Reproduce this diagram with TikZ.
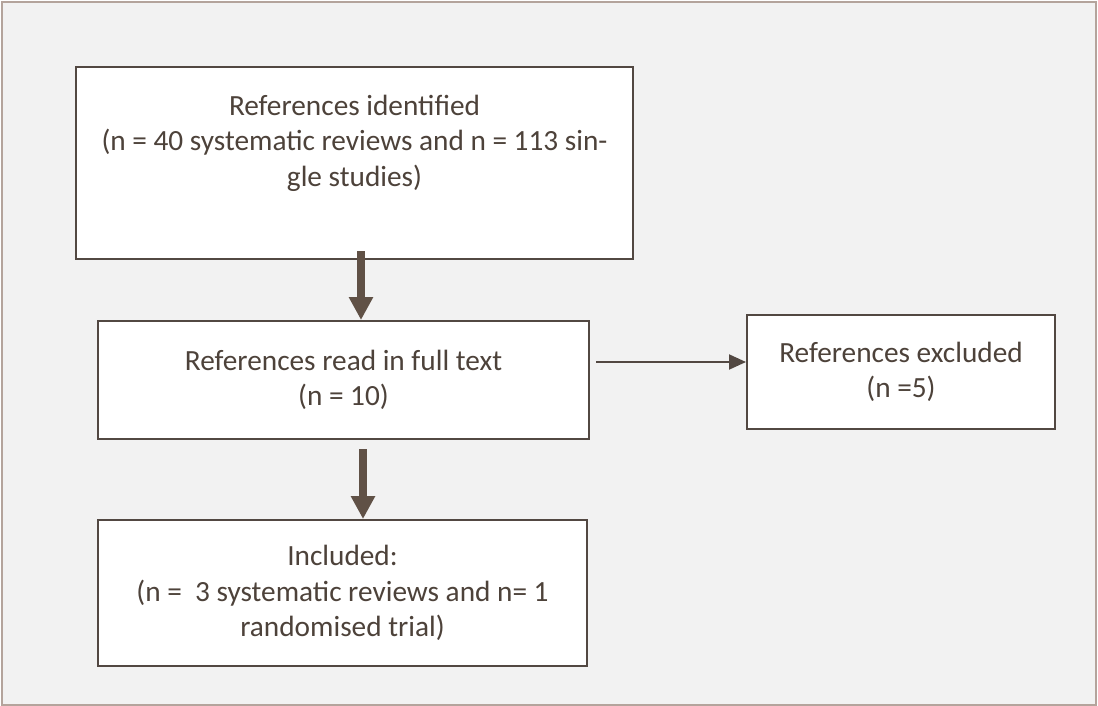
\documentclass[tikz,border=0pt]{standalone}
\usepackage{fontspec}
\setmainfont{Carlito}
\usetikzlibrary{arrows.meta}
\definecolor{textcol}{RGB}{77,66,58}
\definecolor{linecol}{RGB}{82,72,66}
\definecolor{arrowcol}{RGB}{96,81,70}
\definecolor{framecol}{RGB}{180,164,156}
\definecolor{bgcol}{RGB}{242,242,242}
\tikzset{
  box/.style={draw=linecol, fill=white, line width=2pt, inner sep=0pt, align=center,
    text=textcol, font=\fontsize{29.3}{35.7}\selectfont},
  txt/.style={inner sep=0pt, align=center, text=textcol, font=\fontsize{29.3}{35.7}\selectfont},
  bigarrow/.style={draw=arrowcol, line width=8pt, -{Triangle[width=23pt,length=23pt]}, arrowcol},
  thinarrow/.style={draw=linecol, line width=2pt, -{Triangle[width=15pt,length=17pt]}, linecol}
}
\begin{document}
\begin{tikzpicture}[x=1pt,y=-1pt]
\useasboundingbox (0,0) rectangle (1098,706);
\draw[draw=framecol, line width=2.5pt, fill=bgcol] (2,2) rectangle (1096,705);

\node[box, minimum width=557pt, minimum height=192pt] (b1) at (354.5,163) {};
\node[txt, anchor=north] (t1) at (354.5,94.5) {References identified\\(n = 40 systematic reviews and n = 113 sin-\\gle studies)};

\node[box, minimum width=491pt, minimum height=118pt] (b2) at (343.5,380) {References read in full text\\(n = 10)};

\node[box, minimum width=308pt, minimum height=114pt] (b4) at (901,372) {References excluded\\(n =5)};

\node[box, minimum width=489pt, minimum height=146pt] (b3) at (342.5,593) {Included:\\(n =\ \ 3 systematic reviews and n= 1\\randomised trial)};

\coordinate (a1) at ([xshift=6.5pt,yshift=9pt]b1.south);
\draw[bigarrow] (a1) -- (a1 |- b2.north);
\coordinate (a2) at ([xshift=19.5pt,yshift=-9pt]b2.south);
\draw[bigarrow] (a2) -- (a2 |- b3.north);
\coordinate (a3) at ([xshift=6pt,yshift=18pt]b2.east);
\draw[thinarrow] (a3) -- (a3 -| b4.west);
\end{tikzpicture}
\end{document}
